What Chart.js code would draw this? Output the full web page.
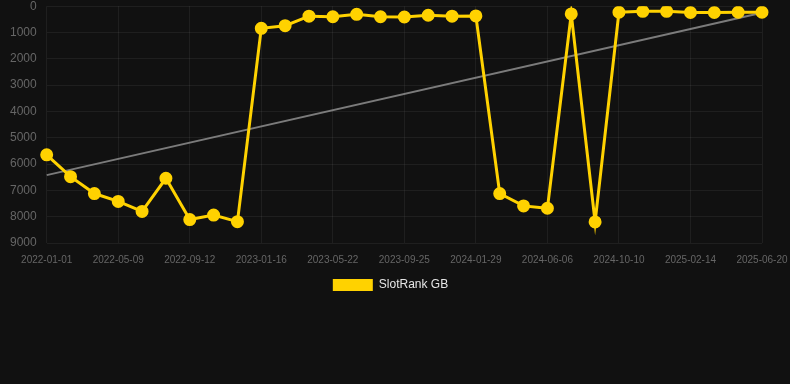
<!DOCTYPE html>
<html>
<head>
<meta charset="utf-8">
<script src="https://cdn.jsdelivr.net/npm/chart.js@4.4.1/dist/chart.umd.min.js"></script>
<style>
    html, body { margin: 0; padding: 0; background: #111111; overflow: hidden; }
    #wrap { width: 790px; height: 312px; margin-top: -11px; position: relative; }
</style>
</head>
<body>
<div id="wrap"><canvas id="rankChart"></canvas></div>
<script>
// tick labels shown on the x axis (every third sample)
const tickLabels = ['2022-01-01', '2022-05-09', '2022-09-12', '2023-01-16', '2023-05-22',
    '2023-09-25', '2024-01-29', '2024-06-06', '2024-10-10', '2025-02-14', '2025-06-20'];

// SlotRank GB, one sample per point (lower = better)
const rankValues = [5650, 6480, 7120, 7420, 7800, 6540, 8110, 7940, 8190,
    840, 740, 380, 400, 310, 400, 410, 345, 380, 370,
    7120, 7590, 7680, 295, 8200,
    230, 195, 195, 240, 240, 230, 230];

// trend line end points
const trendStart = 6420;
const trendEnd = 250;

const labels = rankValues.map((v, i) => (i % 3 === 0 ? tickLabels[i / 3] : ''));
const trendValues = rankValues.map((v, i) => {
    if (i === 0) return trendStart;
    if (i === rankValues.length - 1) return trendEnd;
    return null;
});

const gold = '#FFD200';
const gridColor = 'rgba(255,255,255,0.06)';
const fontFamily = 'Liberation Sans, Arial, sans-serif';

const ctx = document.getElementById('rankChart').getContext('2d');
new Chart(ctx, {
    type: 'line',
    data: {
        labels: labels,
        datasets: [
            {
                label: 'SlotRank GB',
                data: rankValues,
                borderColor: gold,
                backgroundColor: gold,
                borderWidth: 3,
                pointRadius: 5,
                pointHoverRadius: 5,
                tension: 0
            },
            {
                label: 'trend',
                data: trendValues,
                borderColor: 'rgba(150,150,150,0.8)',
                borderWidth: 2,
                pointRadius: 0,
                spanGaps: true,
                tension: 0
            }
        ]
    },
    options: {
        responsive: true,
        maintainAspectRatio: false,
        animation: false,
        layout: {
            padding: { top: 0, left: 0, bottom: 0, right: 9 }
        },
        plugins: {
            legend: {
                position: 'bottom',
                labels: {
                    color: '#e6e6e6',
                    boxWidth: 40,
                    boxHeight: 12,
                    padding: 2,
                    font: { family: fontFamily, size: 12 },
                    generateLabels: chart => Chart.defaults.plugins.legend.labels.generateLabels(chart)
                        .filter(item => item.text === 'SlotRank GB')
                        .map(item => Object.assign(item, { lineWidth: 0 }))
                }
            },
            tooltip: { enabled: false }
        },
        scales: {
            x: {
                grid: { color: gridColor, drawTicks: false },
                border: { display: false },
                afterFit: scale => { scale.paddingRight = 28; },
                ticks: {
                    color: '#666666',
                    autoSkip: false,
                    maxRotation: 0,
                    padding: 11,
                    font: { family: fontFamily, size: 10 },
                    callback: function(value) {
                        const l = this.getLabelForValue(value);
                        return l === '' ? null : l;
                    }
                }
            },
            y: {
                reverse: true,
                min: 0,
                max: 9000,
                grid: { color: gridColor, drawTicks: false },
                border: { display: false },
                ticks: {
                    color: '#666666',
                    stepSize: 1000,
                    padding: 10,
                    font: { family: fontFamily, size: 12 },
                    callback: value => String(value)
                }
            }
        }
    }
});
</script>
</body>
</html>
